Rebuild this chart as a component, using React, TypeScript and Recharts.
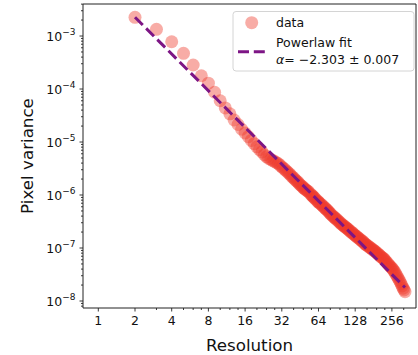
import React from 'react';
import { ComposedChart, Scatter, XAxis, YAxis, ReferenceArea } from 'recharts';

// ---- data ----
const resolution = [
  2, 3, 4, 5, 6, 7, 8, 9, 10, 11, 12, 13, 14, 15, 16, 17, 18, 19, 20, 21, 22, 23,
  24, 25, 26, 27, 28, 29, 30, 31, 32, 33, 34, 35, 36, 37, 38, 39, 40, 41, 42, 43, 44, 45, 46, 47, 48, 49, 50,
  51, 52, 53, 55, 56, 57, 58, 59, 60, 62, 63, 64, 65, 67, 68, 70, 71, 73, 74, 76, 77, 79, 80, 82, 84, 86, 87,
  89, 91, 93, 95, 97, 99, 101, 103, 105, 107, 109, 111, 113, 116, 118, 121, 123, 126, 128, 131, 133, 136, 139,
  142, 145, 148, 151, 154, 157, 160, 163, 167, 170, 174, 177, 181, 184, 188, 192, 196, 200, 204, 208, 213, 217,
  221, 225, 230, 235, 240, 245, 250, 255, 260, 265, 271, 276, 282, 287, 293, 299, 305, 310, 316, 322, 328,
];
const variance = [
  2.25e-3, 1.34e-3, 7.8e-4, 4.71e-4, 2.84e-4, 1.78e-4, 1.29e-4, 8.7e-5, 6.0e-5, 4.4e-5, 3.4e-5, 2.6e-5, 2.14e-5,
  1.74e-5, 1.48e-5, 1.26e-5, 1.07e-5, 9.3e-6, 8.1e-6, 7.2e-6, 6.5e-6, 5.75e-6,
  5.25e-6, 4.9e-6, 4.68e-6, 4.47e-6, 4.27e-6, 4.07e-6, 3.89e-6, 3.63e-6, 3.39e-6, 3.2e-6, 3.02e-6, 2.82e-6,
  2.66e-6, 2.51e-6, 2.34e-6, 2.2e-6, 2.09e-6, 1.97e-6, 1.86e-6, 1.78e-6, 1.68e-6, 1.58e-6, 1.51e-6, 1.45e-6,
  1.38e-6, 1.32e-6, 1.27e-6,
  1.23e-6, 1.19e-6, 1.15e-6, 1.05e-6, 1.0e-6, 9.6e-7, 9.3e-7, 8.9e-7, 8.5e-7, 7.9e-7, 7.6e-7, 7.35e-7, 7.1e-7,
  6.7e-7, 6.5e-7, 6.1e-7, 5.9e-7, 5.55e-7, 5.4e-7, 5.1e-7, 4.9e-7, 4.6e-7, 4.47e-7, 4.2e-7, 3.98e-7, 3.8e-7,
  3.72e-7,
  3.55e-7, 3.39e-7, 3.24e-7, 3.09e-7, 2.95e-7, 2.82e-7, 2.72e-7, 2.63e-7, 2.54e-7, 2.45e-7, 2.37e-7, 2.29e-7,
  2.2e-7, 2.09e-7, 2.02e-7, 1.95e-7, 1.87e-7, 1.78e-7, 1.72e-7, 1.66e-7, 1.6e-7, 1.55e-7, 1.48e-7,
  1.41e-7, 1.37e-7, 1.32e-7, 1.26e-7, 1.2e-7, 1.16e-7, 1.12e-7, 1.09e-7, 1.05e-7, 1.01e-7, 9.8e-8, 9.4e-8,
  9.1e-8, 8.8e-8, 8.5e-8, 8.1e-8, 7.8e-8, 7.5e-8, 7.2e-8, 6.9e-8, 6.6e-8, 6.4e-8,
  6.2e-8, 5.85e-8, 5.5e-8, 5.2e-8, 4.9e-8, 4.65e-8, 4.4e-8, 4.2e-8, 4.0e-8, 3.75e-8, 3.5e-8, 3.2e-8, 2.95e-8,
  2.72e-8, 2.5e-8, 2.3e-8, 2.1e-8, 1.92e-8, 1.75e-8, 1.62e-8, 1.5e-8,
];
const fitResolution = [2, 328];
const fitVariance = [2.26e-3, 1.8e-8];

const xMajorTicks = [1, 2, 4, 8, 16, 32, 64, 128, 256];
const xMinorTicks = [3, 5, 6, 7, 10, 12, 14, 20, 24, 28, 40, 48, 56, 80, 96, 112, 160, 192, 224, 320];
const yMajorTicks = [1e-8, 1e-7, 1e-6, 1e-5, 1e-4, 1e-3];
const yMinorMultipliers = [2, 3, 4, 5, 6, 7, 8, 9];

const xDomain: [number, number] = [0.749, 403.6];
const yDomain: [number, number] = [7.38e-9, 4.02e-3];

const legendLabels = ['data', 'Powerlaw fit'];
const fitLabel = ['−2.303', '0.007'];

// ---- derived tables ----
const scatterData = resolution.map((r, i) => ({ x: r, y: variance[i] }));
const fitData = fitResolution.map((r, i) => ({ x: r, y: fitVariance[i] }));
const yMinorTicks: number[] = [];
[-9, -8, -7, -6, -5, -4, -3].forEach((e) => {
  yMinorMultipliers.forEach((m) => {
    const v = m * Math.pow(10, e);
    if (v > yDomain[0] && v < yDomain[1]) yMinorTicks.push(v);
  });
});

const FONT = 'DejaVu Sans, sans-serif';
const TS = 4;
const TM = 4;
const AX = '#222';
const DATA_COLOR = '#ee3a2c';
const FIT_COLOR = '#7d1585';

const XTick = (props: any) => {
  const { x, y, payload } = props;
  const v = payload.value;
  const major = xMajorTicks.indexOf(v) >= 0;
  const ay = y - TS - TM;
  return (
    <g>
      <line x1={x} x2={x} y1={ay} y2={ay + (major ? 3.5 : 2)} stroke={AX} strokeWidth={0.9} />
      {major && (
        <text x={x} y={ay + 17} textAnchor="middle" fontSize={12.5} fontFamily={FONT} fill="#111">
          {v}
        </text>
      )}
    </g>
  );
};

const YTick = (props: any) => {
  const { x, y, payload } = props;
  const v = payload.value;
  const exp = Math.round(Math.log10(v));
  const major = yMajorTicks.some((t) => Math.abs(t - v) / t < 1e-6);
  const ax = x + TS + TM;
  return (
    <g>
      <line x1={ax - (major ? 3.5 : 2)} x2={ax} y1={y} y2={y} stroke={AX} strokeWidth={0.9} />
      {major && (
        <text x={ax - 7.5} y={y + 4.5} textAnchor="end" fontSize={12.5} fontFamily={FONT} fill="#111">
          10
          <tspan dy={-6} fontSize={9}>
            {'−' + Math.abs(exp)}
          </tspan>
        </text>
      )}
    </g>
  );
};

const CircleShape = (props: any) => (
  <circle cx={props.cx} cy={props.cy} r={6.5} fill={DATA_COLOR} fillOpacity={0.42} stroke="none" />
);
const NoShape = () => <g />;

export default function App() {
  return (
    <div style={{ position: 'absolute', left: 0, top: 0, width: 418, height: 355, background: '#fff' }}>
      <ComposedChart width={418} height={355} margin={{ top: 4, right: 2, bottom: 0, left: 0 }}>
        <XAxis
          dataKey="x"
          type="number"
          scale="log"
          domain={xDomain}
          allowDataOverflow
          ticks={[...xMajorTicks, ...xMinorTicks]}
          interval={0}
          tick={<XTick />}
          tickLine={false}
          axisLine={false}
          tickSize={TS}
          tickMargin={TM}
          height={47}
        />
        <YAxis
          dataKey="y"
          type="number"
          scale="log"
          domain={yDomain}
          allowDataOverflow
          ticks={[...yMajorTicks, ...yMinorTicks]}
          interval={0}
          tick={<YTick />}
          tickLine={false}
          axisLine={false}
          tickSize={TS}
          tickMargin={TM}
          width={83}
        />
        <Scatter data={scatterData} dataKey="y" shape={<CircleShape />} isAnimationActive={false} />
        <Scatter
          data={fitData}
          dataKey="y"
          shape={<NoShape />}
          line={{ stroke: FIT_COLOR, strokeWidth: 3, strokeDasharray: '11 4.8' }}
          lineType="joint"
          isAnimationActive={false}
        />
        <ReferenceArea
          x1={xDomain[0]}
          x2={xDomain[1]}
          y1={yDomain[0]}
          y2={yDomain[1]}
          fill="none"
          stroke={AX}
          strokeWidth={1}
          ifOverflow="visible"
        />
      </ComposedChart>
      <svg
        width={418}
        height={355}
        style={{ position: 'absolute', left: 0, top: 0, pointerEvents: 'none' }}
        fontFamily={FONT}
      >
        <text x={249.5} y={350.5} textAnchor="middle" fontSize={16.7} fill="#111">
          Resolution
        </text>
        <text x={32.5} y={156} textAnchor="middle" fontSize={16.7} fill="#111" transform="rotate(-90, 32.5, 156)">
          Pixel variance
        </text>
        <rect x={233} y={11.5} width={181} height={59.5} rx={3} fill="#fff" fillOpacity={0.8} stroke="#d4d4d4" strokeWidth={1} />
        <circle cx={251.7} cy={22.7} r={6.5} fill={DATA_COLOR} fillOpacity={0.42} />
        <text x={276} y={27} fontSize={12.5} fill="#111">
          {legendLabels[0]}
        </text>
        <line x1={238} x2={265} y1={51.7} y2={51.7} stroke={FIT_COLOR} strokeWidth={3} strokeDasharray="11 4.8" />
        <text x={276} y={47} fontSize={12.5} fill="#111">
          {legendLabels[1]}
        </text>
        <text x={276} y={63.5} fontSize={12.5} fill="#111">
          <tspan fontStyle="italic">α</tspan>
          {'= ' + fitLabel[0] + ' ± ' + fitLabel[1]}
        </text>
      </svg>
    </div>
  );
}
